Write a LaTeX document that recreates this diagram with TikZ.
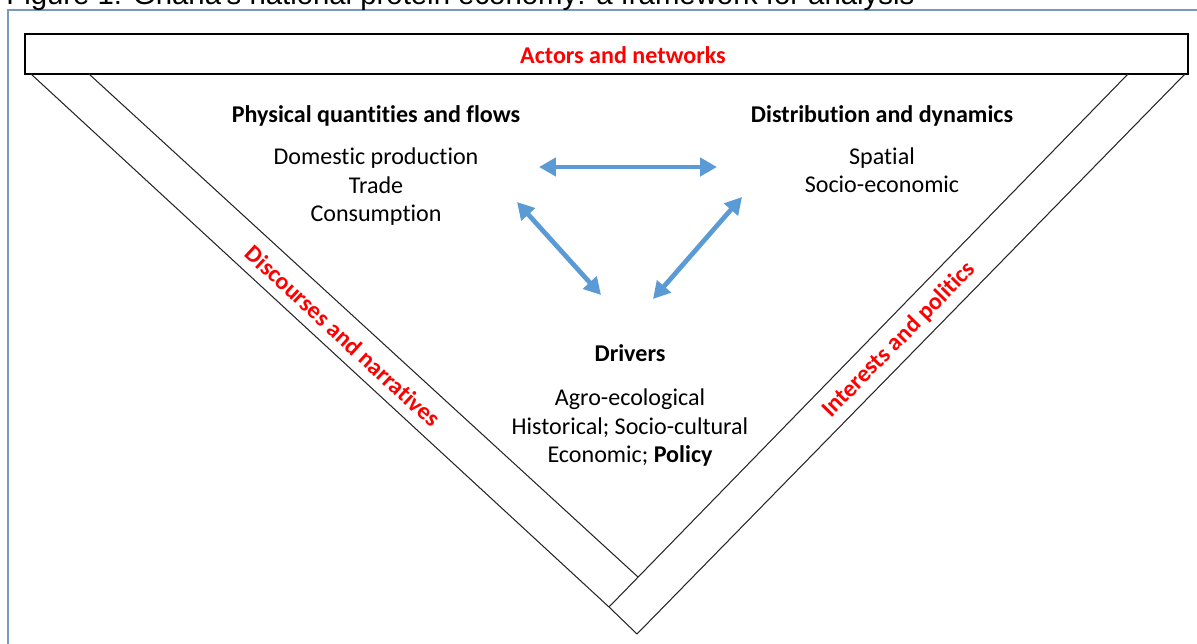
\documentclass[tikz,border=0pt]{standalone}
\usepackage{fontspec}
\setmainfont{Carlito}[Ligatures={TeX,NoCommon}]
\newfontfamily\captionfont{Liberation Sans}
\usetikzlibrary{arrows.meta}
\definecolor{framegray}{RGB}{122,152,192}
\definecolor{labelred}{RGB}{255,0,0}
\definecolor{linkblue}{RGB}{91,155,213}

\begin{document}
\begin{tikzpicture}[x=0.02cm, y=-0.02cm,
    heading/.style={font=\fontsize{13.7}{16.5}\selectfont\bfseries, anchor=base, inner sep=0pt},
    body/.style={font=\fontsize{13.7}{16.5}\selectfont, align=center, anchor=base, inner sep=0pt},
    bandlabel/.style={font=\fontsize{13.7}{16.5}\selectfont\bfseries, text=labelred, inner sep=0pt},
    bandline/.style={draw=black!85, line width=0.6pt},
    link/.style={linkblue, line width=2.7pt,
      {Triangle[width=10.2pt,length=9.6pt]}-{Triangle[width=10.2pt,length=9.6pt]}}]
      \useasboundingbox (0,0) rectangle (1197,644);

      % Draw the frame and the (cut) caption
      \draw[framegray, line width=1.1pt] (8,700) |- (1250,10);
      \node[font=\captionfont\fontsize{16.7}{20}\selectfont, anchor=base west, inner sep=0pt]
        (caption) at (6,5) {Figure 1: Ghana's national protein economy: a framework for analysis};

      % Draw the top bar
      \draw[line width=0.8pt] (25,34) rectangle (1188,74);
      \node[bandlabel] (actors) at (623,55) {Actors and networks};

      % Draw the two bands of the V
      \draw[bandline] (31,74) -- (609,607) -- (637,634) -- (1185,74);
      \draw[bandline] (89,74) -- (638,577);
      \draw[bandline] (609,607) -- (1128,74);
      \node[bandlabel, rotate=-42.6] (discourses) at (343,336) {Discourses and narratives};
      \node[bandlabel, rotate=45.6] (interests) at (899,340) {Interests and politics};

      % Add the three blocks (body nodes sit on the baseline of their last line)
      \node[heading] (pqHead) at (376,123) {Physical quantities and flows};
      \node[body] (pqBody) at (376,222) {Domestic production\\Trade\\Consumption};
      \node[heading] (ddHead) at (882,123) {Distribution and dynamics};
      \node[body] (ddBody) at (882,193) {Spatial\\Socio-economic};
      \node[heading] (drvHead) at (630,362) {Drivers};
      \node[body] (drvBody) at (630,463) {Agro-ecological\\Historical; Socio-cultural\\Economic; \textbf{Policy}};

      % Arrow ends
      \coordinate (pqEast) at (539,167);
      \coordinate (ddWest) at (717,167);
      \coordinate (pqSouth) at (517,202);
      \coordinate (drvWest) at (601,295);
      \coordinate (ddSouth) at (742,197);
      \coordinate (drvEast) at (653,299);

      \foreach \a/\b in {pqEast/ddWest, pqSouth/drvWest, ddSouth/drvEast} {
          \draw[link] (\a) -- (\b);
      }
    \end{tikzpicture}
\end{document}
